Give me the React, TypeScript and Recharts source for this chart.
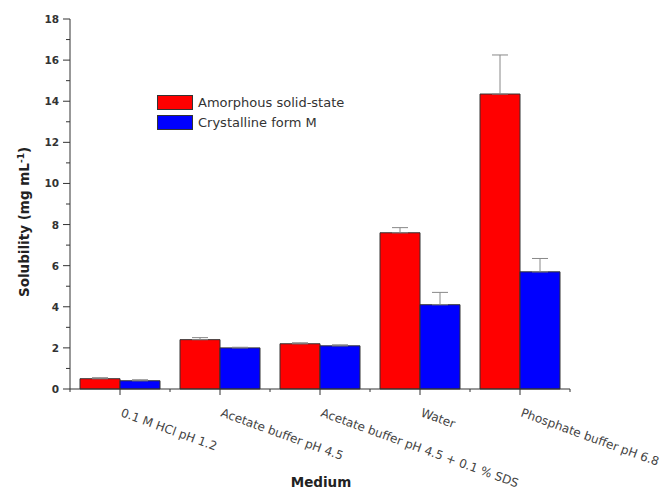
import React from 'react';
import { BarChart, Bar, XAxis, YAxis, ErrorBar, Legend } from 'recharts';

const MEDIA = [
  '0.1 M HCl pH 1.2',
  'Acetate buffer pH 4.5',
  'Acetate buffer pH 4.5 + 0.1 % SDS',
  'Water',
  'Phosphate buffer pH 6.8',
];
const AMORPHOUS = [0.5, 2.4, 2.2, 7.6, 14.35];
const AMORPHOUS_ERR = [0.05, 0.1, 0.05, 0.25, 1.9];
const CRYSTALLINE = [0.4, 2.0, 2.1, 4.1, 5.7];
const CRYSTALLINE_ERR = [0.05, 0.03, 0.05, 0.6, 0.65];
const Y_TICKS = [0, 1, 2, 3, 4, 5, 6, 7, 8, 9, 10, 11, 12, 13, 14, 15, 16, 17, 18];

const data = MEDIA.map((medium, i) => ({
  medium,
  amorphous: AMORPHOUS[i],
  amorphousErr: [0, AMORPHOUS_ERR[i]],
  crystalline: CRYSTALLINE[i],
  crystallineErr: [0, CRYSTALLINE_ERR[i]],
}));

const AXIS = '#333';
const FONT = '"DejaVu Sans", Verdana, sans-serif';

const YTick = ({ x, y, payload }: any) => {
  const major = payload.value % 2 === 0;
  return (
    <g>
      <line x1={x} x2={x - (major ? 7 : 4)} y1={y} y2={y} stroke={AXIS} />
      {major && (
        <text x={x - 11} y={y} dy={4} textAnchor="end" fontSize={10.5} fontWeight="bold" fill="#333" fontFamily={FONT}>
          {payload.value}
        </text>
      )}
    </g>
  );
};

const XTick = ({ x, y, payload, index }: any) => (
  <g>
    <line x1={x} x2={x} y1={y} y2={y + 6} stroke={AXIS} />
    <line x1={x + 50} x2={x + 50} y1={y} y2={y + 3} stroke={AXIS} />
    {index === 0 && <line x1={x - 50} x2={x - 50} y1={y} y2={y + 3} stroke={AXIS} />}
    <text
      x={x}
      y={y + 27}
      textAnchor="start"
      fontSize={12}
      fill="#444"
      fontFamily={FONT}
      transform={`rotate(20 ${x} ${y + 27})`}
    >
      {payload.value}
    </text>
  </g>
);

const LegendBox = ({ payload }: any) => (
  <div style={{ fontFamily: FONT, fontSize: 13, color: '#333' }}>
    {(payload || []).map((entry: any) => (
      <div key={entry.value} style={{ display: 'flex', alignItems: 'center', height: 20 }}>
        <span
          style={{
            width: 34,
            height: 13,
            background: entry.color,
            border: '1px solid #333',
            marginRight: 5,
          }}
        />
        <span>{entry.value}</span>
      </div>
    ))}
  </div>
);

export default function App() {
  return (
    <div style={{ position: 'absolute', left: 0, top: 0, width: 670, height: 490, background: '#fff' }}>
      <BarChart
        width={670}
        height={490}
        data={data}
        margin={{ top: 19, right: 100, bottom: 0, left: 0 }}
        barCategoryGap={10}
        barGap={0}
      >
        <XAxis
          dataKey="medium"
          interval={0}
          tickLine={false}
          tickSize={0}
          tickMargin={0}
          stroke={AXIS}
          tick={<XTick />}
          height={101}
          label={(props: any) => (
            <text x={321} y={487} textAnchor="middle" fontSize={13.5} fontWeight="bold" fill="#222" fontFamily={FONT}>
              Medium
            </text>
          )}
        />
        <YAxis
          domain={[0, 18]}
          ticks={Y_TICKS}
          interval={0}
          tickLine={false}
          tickSize={0}
          tickMargin={0}
          stroke={AXIS}
          width={70}
          tick={<YTick />}
          label={(props: any) => (
            <text
              x={29}
              y={222}
              textAnchor="middle"
              fontSize={13.5}
              fontWeight="bold"
              fill="#222"
              fontFamily={FONT}
              transform="rotate(-90 29 222)"
            >
              Solubility (mg mL
              <tspan dy={-5} fontSize={9}>-1</tspan>
              <tspan dy={5}>)</tspan>
            </text>
          )}
        />
        <Legend
          layout="vertical"
          align="center"
          verticalAlign="middle"
          wrapperStyle={{ left: 157, top: 92, width: 240 }}
          content={<LegendBox />}
        />
        <Bar dataKey="amorphous" name="Amorphous solid-state" fill="#ff0000" stroke="#333" strokeWidth={1} isAnimationActive={false}>
          <ErrorBar dataKey="amorphousErr" width={8} stroke="#888" strokeWidth={1} />
        </Bar>
        <Bar dataKey="crystalline" name="Crystalline form M" fill="#0000ff" stroke="#333" strokeWidth={1} isAnimationActive={false}>
          <ErrorBar dataKey="crystallineErr" width={8} stroke="#888" strokeWidth={1} />
        </Bar>
      </BarChart>
    </div>
  );
}
